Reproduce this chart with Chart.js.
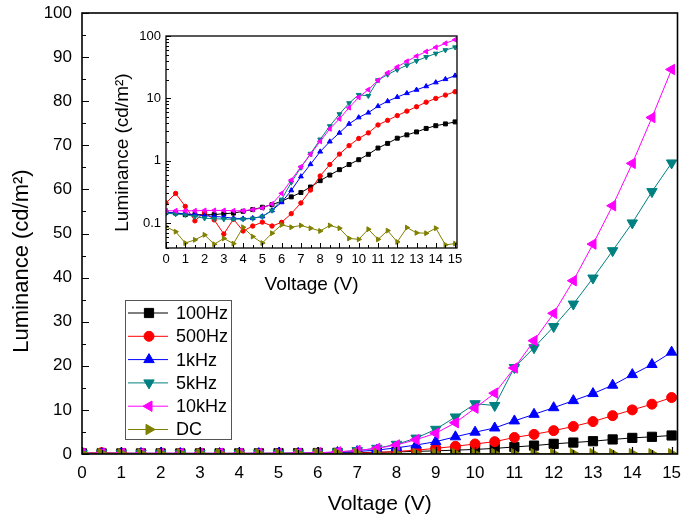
<!DOCTYPE html>
<html>
<head>
<meta charset="utf-8">
<title>Luminance vs Voltage</title>
<script src="https://cdn.jsdelivr.net/npm/chart.js@4.4.1/dist/chart.umd.min.js"></script>
<style>
  html, body { margin: 0; padding: 0; background: #fff; }
  #wrap { position: relative; width: 685px; height: 522px; }
  #main { position: absolute; left: 0; top: 0; }
  #inset { position: absolute; left: 100px; top: 20px; }
</style>
</head>
<body>
<div id="wrap">
  <canvas id="main" width="685" height="522"></canvas>
  <canvas id="inset" width="370" height="280"></canvas>
</div>
<script>
// DATA
// -----------------------------------------------------------------------------
var voltage = [0, 0.5, 1, 1.5, 2, 2.5, 3, 3.5, 4, 4.5, 5, 5.5, 6, 6.5, 7, 7.5,
               8, 8.5, 9, 9.5, 10, 10.5, 11, 11.5, 12, 12.5, 13, 13.5, 14, 14.5, 15];

var lum100Hz = [0.149, 0.145, 0.137, 0.137, 0.137, 0.137, 0.142, 0.145, 0.155, 0.165, 0.18,
                0.198, 0.225, 0.264, 0.31, 0.38, 0.48, 0.59, 0.72, 0.87, 1.04,
                1.27, 1.6, 1.9, 2.3, 2.6, 2.9, 3.3, 3.65, 3.9, 4.2];
var lum500Hz = [0.211, 0.30, 0.186, 0.109, 0.149, 0.113, 0.067, 0.116, 0.075, 0.09, 0.104,
                0.09, 0.103, 0.142, 0.211, 0.34, 0.57, 0.87, 1.28, 1.75, 2.28,
                2.8, 3.75, 4.45, 5.3, 6.25, 7.35, 8.7, 10.0, 11.3, 12.8];
var lum1kHz  = [0.149, 0.145, 0.142, 0.137, 0.132, 0.128, 0.125, 0.12, 0.118, 0.12, 0.128,
                0.16, 0.216, 0.335, 0.56, 0.88, 1.4, 2.03, 2.8, 3.9, 4.95,
                5.9, 7.5, 9.0, 10.5, 12.1, 13.7, 15.6, 18.0, 20.3, 23.1];
var lum5kHz  = [0.145, 0.14, 0.137, 0.128, 0.12, 0.118, 0.116, 0.116, 0.116, 0.119, 0.128,
                0.16, 0.24, 0.45, 0.78, 1.3, 2.2, 3.6, 5.6, 8.4, 11.4,
                11.0, 19.6, 24.1, 28.9, 34.0, 39.9, 46.1, 52.4, 59.5, 66.0];
var lum10kHz = [0.158, 0.158, 0.158, 0.158, 0.16, 0.16, 0.16, 0.158, 0.158, 0.165, 0.175,
                0.203, 0.3, 0.49, 0.8, 1.27, 2.05, 3.25, 4.7, 7.1, 10.4,
                13.8, 19.5, 25.7, 31.9, 39.3, 47.6, 56.3, 65.9, 76.3, 87.2];
var lumDC    = [0.088, 0.073, 0.048, 0.054, 0.065, 0.046, 0.057, 0.047, 0.086, 0.061, 0.048,
                0.069, 0.094, 0.086, 0.092, 0.083, 0.075, 0.092, 0.083, 0.057, 0.055,
                0.08, 0.055, 0.076, 0.05, 0.085, 0.07, 0.069, 0.083, 0.045, 0.047];

var seriesNames  = ['100Hz', '500Hz', '1kHz', '5kHz', '10kHz', 'DC'];
var seriesValues = [lum100Hz, lum500Hz, lum1kHz, lum5kHz, lum10kHz, lumDC];

var voltageTicks  = [0, 1, 2, 3, 4, 5, 6, 7, 8, 9, 10, 11, 12, 13, 14, 15];
var mainLumTicks  = [0, 10, 20, 30, 40, 50, 60, 70, 80, 90, 100];
var insetLumTicks = [0.1, 1, 10, 100];

// STYLE
// -----------------------------------------------------------------------------
var FONT = "'Liberation Sans', Arial, sans-serif";
var seriesStyle = [
    { color: '#000000', point: 'rect',     rot: 0,   big: 6.5, small: 2.8 },
    { color: '#ff0000', point: 'circle',   rot: 0,   big: 5,   small: 2.2 },
    { color: '#0000ff', point: 'triangle', rot: 0,   big: 6,   small: 2.8 },
    { color: '#008080', point: 'triangle', rot: 180, big: 6,   small: 2.8 },
    { color: '#ff00ff', point: 'triangle', rot: 270, big: 6,   small: 2.8 },
    { color: '#808000', point: 'triangle', rot: 90,  big: 6,   small: 2.8 }
];

function buildDatasets(inset) {
    return seriesValues.map(function(values, i) {
        var st = seriesStyle[i];
        return {
            label: seriesNames[i],
            data: voltage.map(function(v, j) { return { x: v, y: values[j] }; }),
            borderColor: st.color,
            backgroundColor: st.color,
            borderWidth: 1,
            pointStyle: st.point,
            rotation: st.rot,
            pointRadius: inset ? st.small : st.big,
            pointBorderWidth: 1,
            order: seriesNames.length - i
        };
    });
}

// pad a rotated title so the visible text sits lower on the axis
function padTitle(text, n) {
    return text + new Array(n + 1).join(' ');
}

// fixed axis sizes, no extra label overflow padding
function fixWidth(w) {
    return function(s) { s.width = w; s.paddingTop = 0; s.paddingBottom = 0; };
}
function fixHeight(h) {
    return function(s) { s.height = h; s.paddingLeft = 0; s.paddingRight = 0; };
}

// inward tick marks + box frame
var axisFrame = {
    id: 'axisFrame',
    afterDatasetsDraw: function(chart, args, opts) {
        var ctx = chart.ctx, a = chart.chartArea;
        var xs = chart.scales.x, ys = chart.scales.y;
        ctx.save();
        ctx.strokeStyle = '#000';
        ctx.lineWidth = opts.tickWidth;
        ctx.beginPath();
        xs.ticks.forEach(function(t, i) {
            var px = Math.round(xs.getPixelForValue(t.value)) + 0.5;
            ctx.moveTo(px, a.bottom); ctx.lineTo(px, a.bottom - opts.major);
            if (i < xs.ticks.length - 1) {
                var m = Math.round(xs.getPixelForValue((t.value + xs.ticks[i + 1].value) / 2)) + 0.5;
                ctx.moveTo(m, a.bottom); ctx.lineTo(m, a.bottom - opts.minor);
            }
        });
        ys.ticks.forEach(function(t, i) {
            var py = Math.round(ys.getPixelForValue(t.value)) + 0.5;
            ctx.moveTo(a.left, py); ctx.lineTo(a.left + opts.major, py);
        });
        if (ys.type === 'logarithmic') {
            for (var d = -2; d <= 2; d++) {
                for (var k = 2; k <= 9; k++) {
                    var v = k * Math.pow(10, d);
                    if (v < ys.min || v > ys.max) continue;
                    var py = Math.round(ys.getPixelForValue(v)) + 0.5;
                    ctx.moveTo(a.left, py); ctx.lineTo(a.left + opts.minor, py);
                }
            }
        } else {
            ys.ticks.forEach(function(t, i) {
                if (i === ys.ticks.length - 1) return;
                var py = Math.round(ys.getPixelForValue((t.value + ys.ticks[i + 1].value) / 2)) + 0.5;
                ctx.moveTo(a.left, py); ctx.lineTo(a.left + opts.minor, py);
            });
        }
        ctx.stroke();
        ctx.lineWidth = opts.frameWidth;
        ctx.strokeRect(a.left, a.top, a.right - a.left, a.bottom - a.top);
        ctx.restore();
    }
};

// boxed legend inside the main plot
var boxLegend = {
    id: 'boxLegend',
    afterDraw: function(chart, args, opts) {
        var ctx = chart.ctx;
        ctx.save();
        ctx.fillStyle = '#fff';
        ctx.fillRect(opts.left, opts.top, opts.width, opts.height);
        ctx.strokeStyle = '#555';
        ctx.lineWidth = 1;
        ctx.strokeRect(opts.left + 0.5, opts.top + 0.5, opts.width, opts.height);
        ctx.font = opts.fontSize + 'px ' + FONT;
        ctx.textBaseline = 'middle';
        chart.data.datasets.forEach(function(ds, i) {
            var y = opts.top + opts.firstRow + i * opts.rowGap;
            ctx.strokeStyle = ds.borderColor;
            ctx.fillStyle = ds.backgroundColor;
            ctx.lineWidth = 1;
            ctx.beginPath();
            ctx.moveTo(opts.left + 3, y); ctx.lineTo(opts.left + 43, y);
            ctx.stroke();
            Chart.helpers.drawPoint(ctx, {
                pointStyle: ds.pointStyle, rotation: ds.rotation,
                radius: ds.pointRadius, borderWidth: 1
            }, opts.left + 24, y);
            ctx.fillStyle = '#000';
            ctx.fillText(ds.label, opts.left + 51, y + 1);
        });
        ctx.restore();
    }
};

// MAIN CHART
// -----------------------------------------------------------------------------
var mainChart = new Chart(document.getElementById('main'), {
    type: 'line',
    data: { datasets: buildDatasets(false) },
    plugins: [axisFrame, boxLegend],
    options: {
        responsive: false,
        animation: false,
        devicePixelRatio: 1,
        layout: { padding: { top: 13, right: 7, left: 0, bottom: 0 } },
        plugins: {
            legend: { display: false },
            tooltip: { enabled: false },
            axisFrame: { tickWidth: 1.2, frameWidth: 1.6, major: 7, minor: 4 },
            boxLegend: { left: 125, top: 300, width: 106, height: 139,
                         firstRow: 13, rowGap: 23.3, fontSize: 18 }
        },
        scales: {
            x: {
                type: 'linear', min: 0, max: 15.15,
                afterBuildTicks: function(s) { s.ticks = voltageTicks.map(function(v) { return { value: v }; }); },
                afterFit: fixHeight(68),
                grid: { display: false, drawTicks: false },
                border: { display: false },
                ticks: { autoSkip: false, maxRotation: 0, padding: 9, color: '#000',
                         font: { family: FONT, size: 17 } },
                title: { display: true, text: 'Voltage (V)', color: '#000',
                         font: { family: FONT, size: 21 }, padding: { top: 0, bottom: 5 } }
            },
            y: {
                type: 'linear', min: 0, max: 100,
                afterBuildTicks: function(s) { s.ticks = mainLumTicks.map(function(v) { return { value: v }; }); },
                afterFit: fixWidth(82),
                grid: { display: false, drawTicks: false },
                border: { display: false },
                ticks: { padding: 10, color: '#000', font: { family: FONT, size: 17 } },
                title: { display: true, text: padTitle('Luminance (cd/m\u00b2)', 9), color: '#000',
                         font: { family: FONT, size: 22 }, padding: { top: 9, bottom: 0 } }
            }
        }
    }
});

// INSET CHART
// -----------------------------------------------------------------------------
var insetChart = new Chart(document.getElementById('inset'), {
    type: 'line',
    data: { datasets: buildDatasets(true) },
    plugins: [axisFrame],
    options: {
        responsive: false,
        animation: false,
        devicePixelRatio: 1,
        layout: { padding: { top: 16, right: 13, left: 0, bottom: 0 } },
        plugins: {
            legend: { display: false },
            tooltip: { enabled: false },
            axisFrame: { tickWidth: 1, frameWidth: 1.3, major: 5, minor: 3 }
        },
        scales: {
            x: {
                type: 'linear', min: 0, max: 15.1,
                afterBuildTicks: function(s) { s.ticks = voltageTicks.map(function(v) { return { value: v }; }); },
                afterFit: fixHeight(52),
                grid: { display: false, drawTicks: false },
                border: { display: false },
                ticks: { autoSkip: false, maxRotation: 0, padding: 4, color: '#000',
                         font: { family: FONT, size: 13 } },
                title: { display: true, text: 'Voltage (V)', color: '#000',
                         font: { family: FONT, size: 19 }, padding: { top: 0, bottom: 4 } }
            },
            y: {
                type: 'logarithmic', min: 0.04, max: 100,
                afterBuildTicks: function(s) { s.ticks = insetLumTicks.map(function(v) { return { value: v }; }); },
                afterFit: fixWidth(66),
                grid: { display: false, drawTicks: false },
                border: { display: false },
                ticks: { padding: 5, color: '#000', font: { family: FONT, size: 13 },
                         callback: function(v) { return String(v); } },
                title: { display: true, text: padTitle('Luminance (cd/m\u00b2)', 4), color: '#000',
                         font: { family: FONT, size: 19 }, padding: { top: 11, bottom: 0 } }
            }
        }
    }
});
</script>
</body>
</html>
